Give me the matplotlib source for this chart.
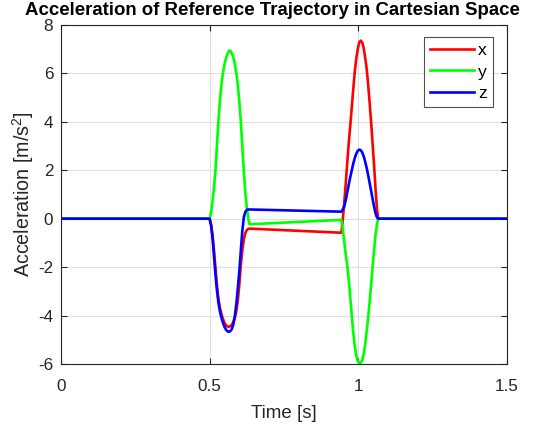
import matplotlib
matplotlib.use("Agg")
import matplotlib.pyplot as plt

# ---- data ----
t_start = [0.0]
t_end = [1.5]

t_pulse1 = [0.500, 0.505, 0.510, 0.515, 0.520, 0.525, 0.530, 0.535, 0.540, 0.545,
            0.550, 0.555, 0.560, 0.565, 0.570, 0.575, 0.580, 0.585, 0.590, 0.595,
            0.600, 0.605, 0.610, 0.615, 0.620, 0.625, 0.630, 0.634]
t_pulse2 = [0.943, 0.948, 0.953, 0.958, 0.963, 0.968, 0.973, 0.978, 0.983, 0.988,
            0.993, 0.998, 1.003, 1.008, 1.013, 1.018, 1.023, 1.028, 1.033, 1.038,
            1.043, 1.048, 1.053, 1.058, 1.063, 1.067]

x_pulse1 = [0, -0.25, -0.7, -1.35, -2.1, -2.8, -3.35, -3.7, -3.95, -4.15,
            -4.3, -4.4, -4.45, -4.46, -4.44, -4.38, -4.25, -4.08, -3.8, -3.35,
            -2.7, -1.9, -1.3, -0.85, -0.6, -0.47, -0.42, -0.41]
y_pulse1 = [0, 0.27, 0.74, 1.3, 2.05, 3.1, 4.1, 4.94, 5.56, 6.04,
            6.37, 6.62, 6.8, 6.94, 6.93, 6.82, 6.66, 6.37, 6.0, 5.5,
            4.8, 4.0, 2.95, 1.95, 1.1, 0.45, 0.0, -0.23]
z_pulse1 = [0, -0.28, -0.8, -1.6, -2.35, -3.0, -3.5, -3.85, -4.1, -4.3,
            -4.47, -4.58, -4.65, -4.67, -4.64, -4.55, -4.35, -4.0, -3.5, -2.85,
            -2.15, -1.3, -0.5, 0.05, 0.28, 0.36, 0.38, 0.38]

x_pulse2 = [-0.58, 0.0, 0.7, 1.5, 2.35, 3.15, 3.85, 4.6, 5.35, 6.05,
            6.6, 7.0, 7.28, 7.35, 7.28, 7.05, 6.65, 6.2, 5.55, 4.8,
            4.0, 3.1, 2.2, 1.2, 0.35, 0.0]
y_pulse2 = [-0.05, -0.45, -1.0, -1.5, -1.95, -2.55, -3.25, -4.0, -4.7, -5.25,
            -5.65, -5.88, -5.97, -5.96, -5.85, -5.6, -5.2, -4.65, -4.1, -3.45,
            -2.75, -2.0, -1.3, -0.65, -0.2, 0.0]
z_pulse2 = [0.29, 0.38, 0.52, 0.78, 1.1, 1.42, 1.72, 2.0, 2.27, 2.5,
            2.68, 2.8, 2.85, 2.83, 2.74, 2.58, 2.36, 2.1, 1.8, 1.48,
            1.15, 0.82, 0.5, 0.22, 0.05, 0.0]

series_names = ["x", "y", "z"]
x_ticks = [0, 0.5, 1, 1.5]
x_tick_labels = ["0", "0.5", "1", "1.5"]
y_ticks = [-6, -4, -2, 0, 2, 4, 6, 8]
y_tick_labels = ["-6", "-4", "-2", "0", "2", "4", "6", "8"]

t = t_start + t_pulse1 + t_pulse2 + t_end
ax_x = [0] + x_pulse1 + x_pulse2 + [0]
ax_y = [0] + y_pulse1 + y_pulse2 + [0]
ax_z = [0] + z_pulse1 + z_pulse2 + [0]

# ---- plot ----
plt.rcParams["font.family"] = ["Liberation Sans", "DejaVu Sans"]
plt.rcParams["mathtext.fontset"] = "custom"
plt.rcParams["mathtext.rm"] = "Liberation Sans"
fig = plt.figure(figsize=(5.44, 4.30), dpi=100)
ax = fig.add_axes([0.112, 0.1535, 0.820, 0.7885])

colors = ["#ff0000", "#00ff00", "#0000ff"]
for vals, name, c in zip([ax_x, ax_y, ax_z], series_names, colors):
    ax.plot(t, vals, color=c, lw=1.9, label=name, solid_joinstyle="round")

ax.set_xlim(0, 1.5)
ax.set_ylim(-6, 8)
ax.set_xticks(x_ticks)
ax.set_xticklabels(x_tick_labels)
ax.set_yticks(y_ticks)
ax.set_yticklabels(y_tick_labels)
ax.grid(True, color="#dfdfdf", lw=0.8)
ax.set_axisbelow(True)
for sp in ax.spines.values():
    sp.set_color("#262626")
    sp.set_linewidth(0.8)
ax.tick_params(direction="in", top=True, right=True, length=4, width=0.8,
               colors="#262626", labelsize=12.3)
ax.tick_params(axis="x", pad=10.5)
ax.tick_params(axis="y", pad=5.5)

ax.set_xlabel("Time [s]", fontsize=13.5, color="#262626", labelpad=8.5)
ax.set_ylabel("Acceleration [m/s$^{\\mathregular{2}}$]", fontsize=14.2,
              color="#262626", labelpad=1.5)
ax.set_title("Acceleration of Reference Trajectory in Cartesian Space",
             fontsize=13.4, fontweight="bold", pad=7, x=0.474)

leg = ax.legend(loc="upper right", bbox_to_anchor=(0.9686, 0.9646), fontsize=12.5,
                frameon=True, fancybox=False, handlelength=2.5, handletextpad=0.25,
                borderpad=0.35, labelspacing=0.36, borderaxespad=0)
leg.get_frame().set_edgecolor("#262626")
leg.get_frame().set_linewidth(0.8)

fig.savefig("out.png", dpi=100)
